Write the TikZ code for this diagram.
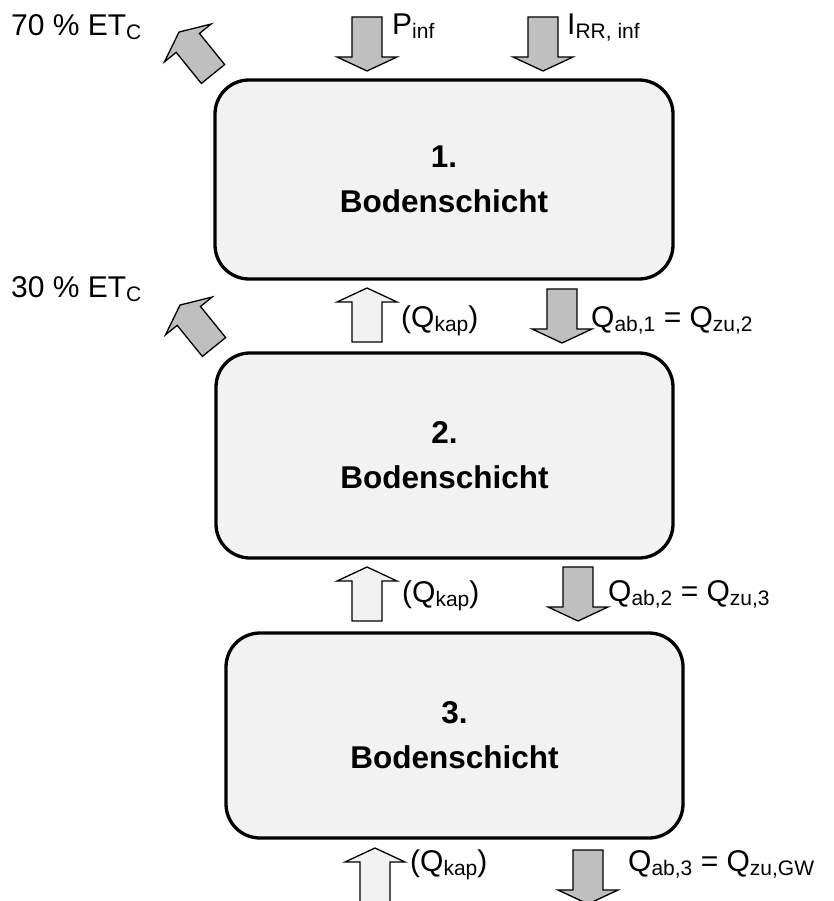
\documentclass[tikz,border=0pt]{standalone}
\usepackage{fontspec}
\setmainfont{Liberation Sans}
\definecolor{boxfill}{HTML}{F2F2F2}
\definecolor{arrowgray}{HTML}{BFBFBF}
\newcommand{\lowsub}[1]{\raisebox{-4pt}{\fontsize{21}{21}\selectfont #1}}
\tikzset{
  layer/.style={draw, line width=3.3pt, fill=boxfill, rectangle, rounded corners=34pt,
    align=center, font=\fontsize{31.5}{45}\selectfont\bfseries},
  flowlabel/.style={anchor=base west, inner sep=0pt, font=\fontsize{30}{30}\selectfont},
  pics/flowarrow/.style={code={
    \draw[line width=1.3pt, fill=#1] (-15,0) -- (-15,-40) -- (-30,-40) -- (0,-54)
      -- (30,-40) -- (15,-40) -- (15,0) -- cycle;
  }},
}
\begin{document}
\begin{tikzpicture}[x=1pt, y=-1pt]
      \clip (0,0) rectangle (833,901);

      \node[layer, minimum width=458, minimum height=199] (b1) at (444,179.5) {1.\\Bodenschicht};
      \node[layer, minimum width=457, minimum height=205] (b2) at (444.5,455.5) {2.\\Bodenschicht};
      \node[layer, minimum width=457, minimum height=205] (b3) at (454.5,735.5) {3.\\Bodenschicht};

      \path (367,17) pic[rotate=180] {flowarrow=arrowgray};
      \path (543,17) pic[rotate=180] {flowarrow=arrowgray};
      \path (213,74) pic[rotate=39] {flowarrow=arrowgray};
      \path (214,347) pic[rotate=39] {flowarrow=arrowgray};

      \path (367,342) pic {flowarrow=boxfill};
      \path (367,621) pic {flowarrow=boxfill};
      \path (375,902) pic {flowarrow=boxfill};

      \path (562,289) pic[rotate=180] {flowarrow=arrowgray};
      \path (578,567) pic[rotate=180] {flowarrow=arrowgray};
      \path (588,850) pic[rotate=180] {flowarrow=arrowgray};

      \node[flowlabel] (et70) at (11,36) {70 \% ET\lowsub{C}};
      \node[flowlabel] (et30) at (11,297) {30 \% ET\lowsub{C}};
      \node[flowlabel] (pinf) at (392,35) {P\lowsub{inf}};
      \node[flowlabel] (irr) at (567,35) {I\lowsub{RR, inf}};

      \node[flowlabel] (kap1) at (401,327) {(Q\lowsub{kap})};
      \node[flowlabel] (kap2) at (402,602) {(Q\lowsub{kap})};
      \node[flowlabel] (kap3) at (410,871) {(Q\lowsub{kap})};

      \node[flowlabel] (ab1) at (591,327) {Q\lowsub{ab,1} = Q\lowsub{zu,2}};
      \node[flowlabel] (ab2) at (608,601) {Q\lowsub{ab,2} = Q\lowsub{zu,3}};
      \node[flowlabel] (ab3) at (628,871) {Q\lowsub{ab,3} = Q\lowsub{zu,GW}};
    \end{tikzpicture}
\end{document}
